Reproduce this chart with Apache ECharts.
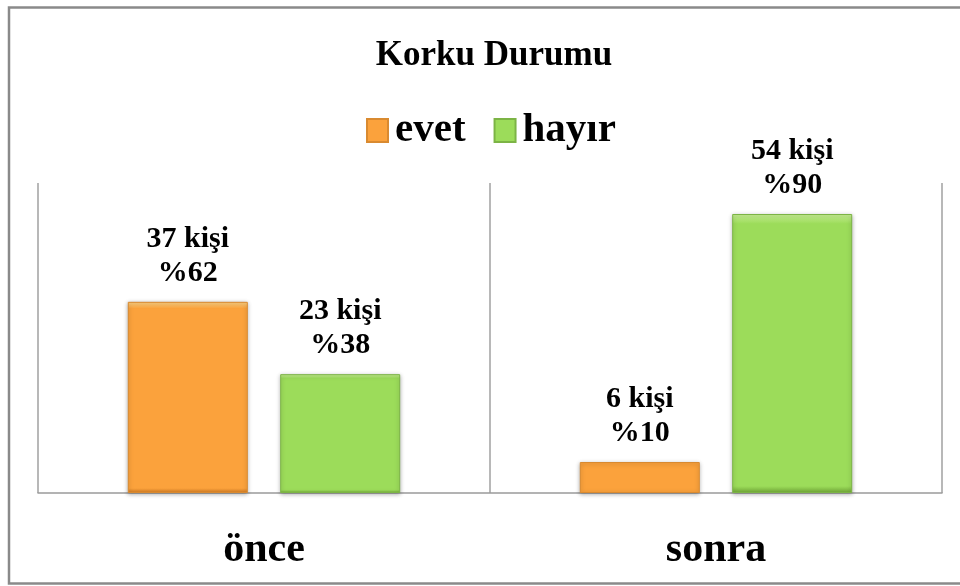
<!DOCTYPE html>
<html>
<head>
<meta charset="utf-8">
<script src="https://cdn.jsdelivr.net/npm/echarts@6/dist/echarts.min.js"></script>
<style>
html,body{margin:0;padding:0;background:#fff;}
#chart{width:960px;height:586px;}
</style>
</head>
<body>
<div id="chart"></div>
<script>
const titleText = 'Korku Durumu';
const categories = ['önce', 'sonra'];
const seriesNames = ['evet', 'hayır'];
const evetCounts = [37, 6];
const hayirCounts = [23, 54];
const evetPercents = [62, 10];
const hayirPercents = [38, 90];
const unitLabel = 'kişi';

const FONT = "'Liberation Serif', 'Times New Roman', serif";

function grad(light, main, dark) {
  return new echarts.graphic.LinearGradient(0, 0, 0, 1, [
    { offset: 0, color: light },
    { offset: 0.035, color: main },
    { offset: 0.975, color: main },
    { offset: 1, color: dark }
  ]);
}

function makeLabel(counts, pcts) {
  return {
    show: true,
    position: 'top',
    distance: 12,
    fontFamily: FONT,
    fontWeight: 'bold',
    fontSize: 30,
    lineHeight: 34,
    color: '#000',
    formatter: p => counts[p.dataIndex] + ' ' + unitLabel + '\n%' + pcts[p.dataIndex]
  };
}

const chart = echarts.init(document.getElementById('chart'), null, { renderer: 'canvas' });
chart.setOption({
  backgroundColor: '#fff',
  animation: false,
  title: {
    text: titleText,
    left: 489,
    textAlign: 'center',
    top: 33,
    textStyle: { fontFamily: FONT, fontWeight: 'bold', fontSize: 35, color: '#000' }
  },
  legend: {
    left: 366,
    top: 110,
    padding: 0,
    itemWidth: 21,
    itemHeight: 23,
    itemGap: 28,
    icon: 'rect',
    data: seriesNames,
    textStyle: { fontFamily: FONT, fontWeight: 'bold', fontSize: 41, color: '#000', padding: [0, 0, 0, 2] }
  },
  grid: { left: 38, right: 18, top: 183, bottom: 93, containLabel: false },
  xAxis: {
    type: 'category',
    data: categories,
    axisLine: { show: true, lineStyle: { color: '#9a9a9a', width: 1.5 } },
    axisTick: { show: false },
    splitLine: { show: true, lineStyle: { color: '#a0a0a0', width: 1.5 } },
    axisLabel: { margin: 36, fontFamily: FONT, fontWeight: 'bold', fontSize: 42, color: '#000' }
  },
  yAxis: {
    type: 'value',
    min: 0,
    max: 60,
    show: false,
    splitLine: { show: false }
  },
  series: [
    {
      name: seriesNames[0],
      type: 'bar',
      data: evetCounts,
      barWidth: 120,
      barGap: '27%',
      itemStyle: {
        color: grad('#fdd486', '#fba23c', '#d07a22'),
        borderColor: '#d98a30',
        borderWidth: 1,
        shadowColor: 'rgba(0,0,0,0.3)',
        shadowBlur: 4,
        shadowOffsetY: 1
      },
      label: makeLabel(evetCounts, evetPercents)
    },
    {
      name: seriesNames[1],
      type: 'bar',
      data: hayirCounts,
      barWidth: 120,
      itemStyle: {
        color: grad('#c8ef95', '#9cdc5a', '#6fa636'),
        borderColor: '#7cb445',
        borderWidth: 1,
        shadowColor: 'rgba(0,0,0,0.3)',
        shadowBlur: 4,
        shadowOffsetY: 1
      },
      label: makeLabel(hayirCounts, hayirPercents)
    }
  ],
  graphic: [
    {
      type: 'rect',
      silent: true,
      shape: { x: 9, y: 7.5, width: 962, height: 576 },
      style: { fill: 'none', stroke: '#8a8a8a', lineWidth: 2.5 }
    }
  ]
});
</script>
</body>
</html>
